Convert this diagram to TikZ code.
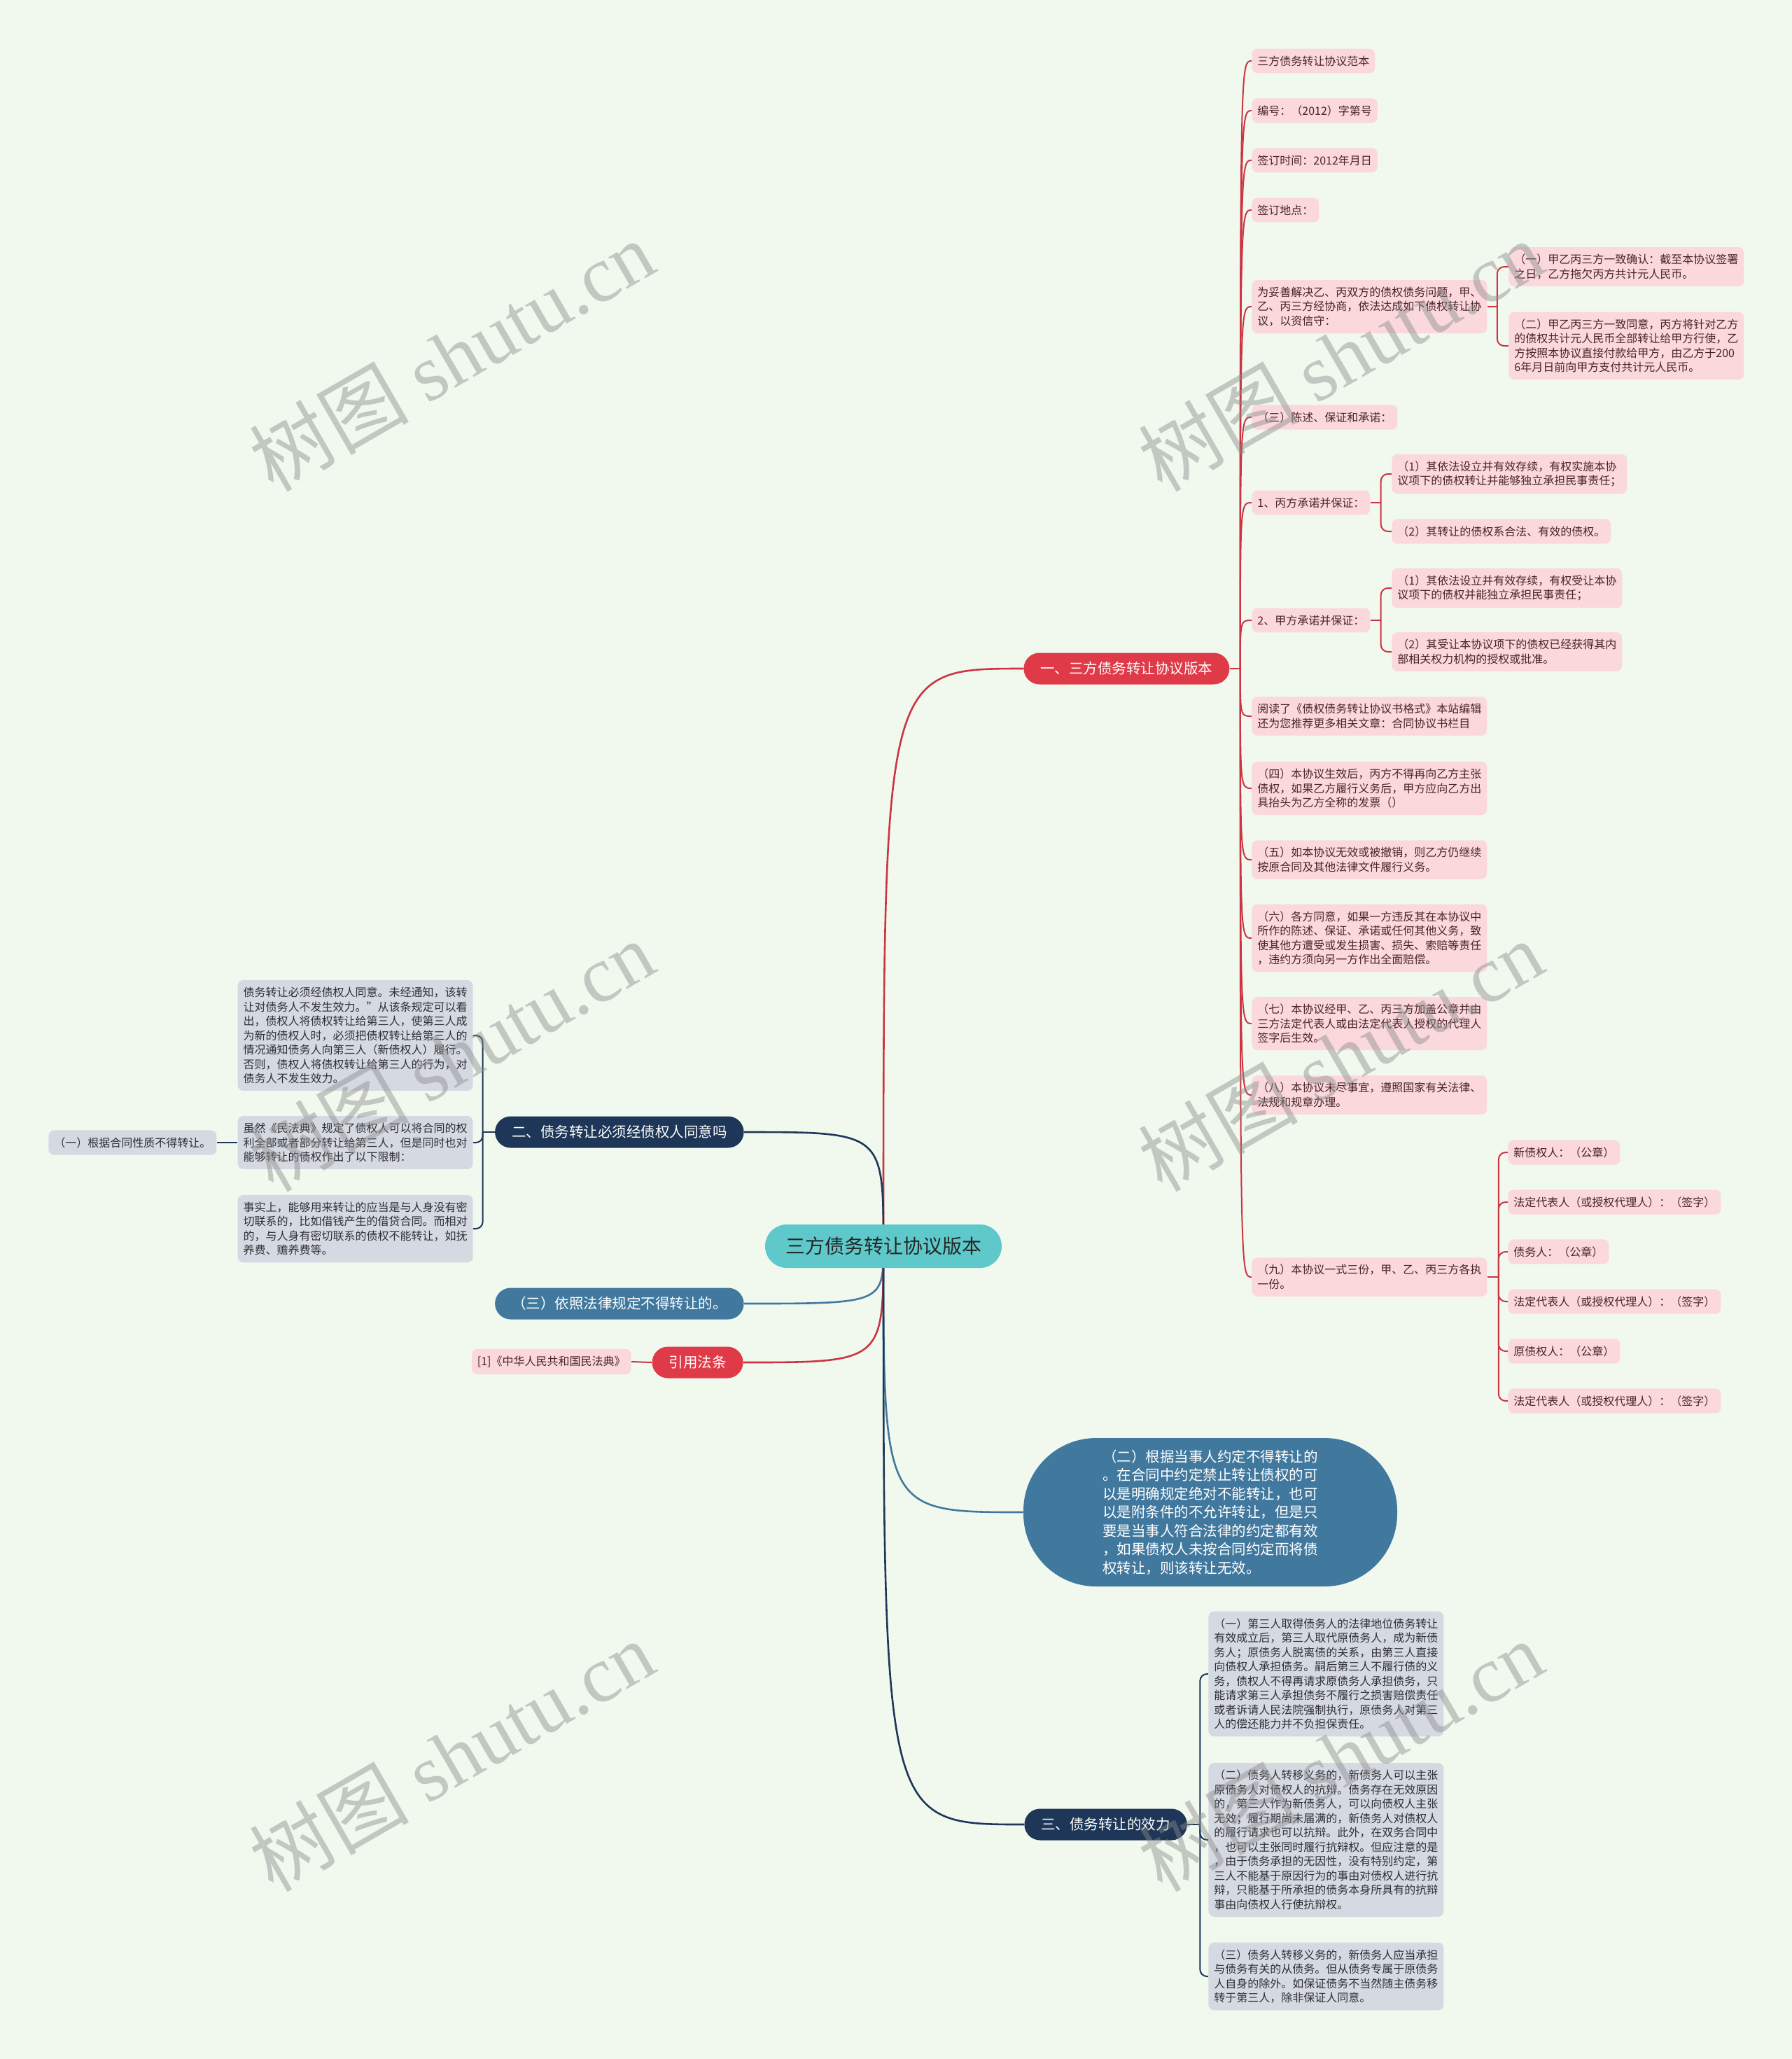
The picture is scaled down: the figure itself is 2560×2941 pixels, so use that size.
\documentclass[tikz,border=0pt]{standalone}
\usepackage{fontspec}
\setmainfont{Noto Sans CJK SC}
\newfontfamily\wmserif{Liberation Serif}
\usetikzlibrary{backgrounds}
\definecolor{bgc}{HTML}{F1F9EF}
\definecolor{pinkfill}{HTML}{FAD8DC}
\definecolor{pinktext}{HTML}{4A2326}
\definecolor{grayfill}{HTML}{D5DAE2}
\definecolor{graytext}{HTML}{2E2E33}
\definecolor{redc}{HTML}{E03A48}
\definecolor{redline}{HTML}{CC3442}
\definecolor{navyc}{HTML}{1E3657}
\definecolor{bluec}{HTML}{41789E}
\definecolor{tealc}{HTML}{5EC8CA}
\begin{document}
\begin{tikzpicture}[x=0.5pt,y=-0.5pt,
  pinkbox/.style={fill=pinkfill,text=pinktext,rounded corners=4pt,inner xsep=4pt,inner ysep=5pt,align=left,font=\fontsize{8}{10.25}\selectfont},
  graybox/.style={pinkbox,fill=grayfill,text=graytext},
  pill/.style={text=white,font=\fontsize{10.25}{12}\selectfont,inner xsep=12pt,inner ysep=0pt,minimum height=22.5pt,rounded corners=11.25pt},
  redmain/.style={draw=redline,line width=1.3pt},
  navymain/.style={draw=navyc,line width=1.3pt},
  bluemain/.style={draw=bluec,line width=1.3pt},
  redln/.style={draw=redline,line width=1pt},
  navyln/.style={draw=navyc,line width=1pt},
  bracket/.style={rounded corners=5pt},
  wmark/.style={rotate=30,text=black!45,text opacity=0.45,font=\fontsize{57}{57}\selectfont}
]
\useasboundingbox (0,0) rectangle (2560,2941);

% central node and main branches
\node[fill=tealc,text=black!85,font=\fontsize{14}{16}\selectfont,minimum width=169pt,minimum height=31pt,rounded corners=15.5pt] (c) at (1262,1780) {三方债务转让协议版本};
\node[pill,fill=redc,anchor=west] (b1) at (1462,955) {一、三方债务转让协议版本};
\node[pill,fill=navyc,anchor=east] (b2) at (1063,1617) {二、债务转让必须经债权人同意吗};
\node[pill,fill=bluec,anchor=east] (b3) at (1063,1862) {（三）依照法律规定不得转让的。};
\node[fill=bluec,text=white,align=left,font=\fontsize{10.25}{13.25}\selectfont,minimum width=267pt,minimum height=106pt,rounded corners=52pt] (b4) at (1729,2160) {（二）根据当事人约定不得转让的\\。在合同中约定禁止转让债权的可\\以是明确规定绝对不能转让，也可\\以是附条件的不允许转让，但是只\\要是当事人符合法律的约定都有效\\，如果债权人未按合同约定而将债\\权转让，则该转让无效。};
\node[pill,fill=redc,anchor=east] (b5) at (1062,1946) {引用法条};
\node[pill,fill=navyc,anchor=west] (b6) at (1463,2606) {三、债务转让的效力};
\node[pinkbox,anchor=east] (r1) at (902,1945) {[1]《中华人民共和国民法典》};

% branch 1 children
\node[pinkbox,anchor=west] (n1) at (1788,87) {三方债务转让协议范本};
\node[pinkbox,anchor=west] (n2) at (1788,158) {编号：（2012）字第号};
\node[pinkbox,anchor=west] (n3) at (1788,229) {签订时间：2012年月日};
\node[pinkbox,anchor=west] (n4) at (1788,300) {签订地点：};
\node[pinkbox,anchor=west] (n5) at (1788,438) {为妥善解决乙、丙双方的债权债务问题，甲、\\乙、丙三方经协商，依法达成如下债权转让协\\议，以资信守：};
\node[pinkbox,anchor=west] (n5a) at (2155,381) {（一）甲乙丙三方一致确认：截至本协议签署\\之日，乙方拖欠丙方共计元人民币。};
\node[pinkbox,anchor=west] (n5b) at (2155,494) {（二）甲乙丙三方一致同意，丙方将针对乙方\\的债权共计元人民币全部转让给甲方行使，乙\\方按照本协议直接付款给甲方，由乙方于200\\6年月日前向甲方支付共计元人民币。};
\node[pinkbox,anchor=west] (n6) at (1788,596) {（三）陈述、保证和承诺：};
\node[pinkbox,anchor=west] (n7) at (1788,718) {1、丙方承诺并保证：};
\node[pinkbox,anchor=west] (n7a) at (1988,677) {（1）其依法设立并有效存续，有权实施本协\\议项下的债权转让并能够独立承担民事责任；};
\node[pinkbox,anchor=west] (n7b) at (1988,759) {（2）其转让的债权系合法、有效的债权。};
\node[pinkbox,anchor=west] (n8) at (1788,886) {2、甲方承诺并保证：};
\node[pinkbox,anchor=west] (n8a) at (1988,840) {（1）其依法设立并有效存续，有权受让本协\\议项下的债权并能独立承担民事责任；};
\node[pinkbox,anchor=west] (n8b) at (1988,931) {（2）其受让本协议项下的债权已经获得其内\\部相关权力机构的授权或批准。};
\node[pinkbox,anchor=west] (n9) at (1788,1023) {阅读了《债权债务转让协议书格式》本站编辑\\还为您推荐更多相关文章：合同协议书栏目};
\node[pinkbox,anchor=west] (n10) at (1788,1126) {（四）本协议生效后，丙方不得再向乙方主张\\债权，如果乙方履行义务后，甲方应向乙方出\\具抬头为乙方全称的发票（）};
\node[pinkbox,anchor=west] (n11) at (1788,1228) {（五）如本协议无效或被撤销，则乙方仍继续\\按原合同及其他法律文件履行义务。};
\node[pinkbox,anchor=west] (n12) at (1788,1340) {（六）各方同意，如果一方违反其在本协议中\\所作的陈述、保证、承诺或任何其他义务，致\\使其他方遭受或发生损害、损失、索赔等责任\\，违约方须向另一方作出全面赔偿。};
\node[pinkbox,anchor=west] (n13) at (1788,1462) {（七）本协议经甲、乙、丙三方加盖公章并由\\三方法定代表人或由法定代表人授权的代理人\\签字后生效。};
\node[pinkbox,anchor=west] (n14) at (1788,1564) {（八）本协议未尽事宜，遵照国家有关法律、\\法规和规章办理。};
\node[pinkbox,anchor=west] (n15) at (1788,1824) {（九）本协议一式三份，甲、乙、丙三方各执\\一份。};
\node[pinkbox,anchor=west] (n15a) at (2154,1646) {新债权人：（公章）};
\node[pinkbox,anchor=west] (n15b) at (2154,1717) {法定代表人（或授权代理人）：（签字）};
\node[pinkbox,anchor=west] (n15c) at (2154,1788) {债务人：（公章）};
\node[pinkbox,anchor=west] (n15d) at (2154,1859) {法定代表人（或授权代理人）：（签字）};
\node[pinkbox,anchor=west] (n15e) at (2154,1930) {原债权人：（公章）};
\node[pinkbox,anchor=west] (n15f) at (2154,2001) {法定代表人（或授权代理人）：（签字）};

% branch 2 children
\node[graybox,anchor=east] (l1) at (676,1479) {债务转让必须经债权人同意。未经通知，该转\\让对债务人不发生效力。”从该条规定可以看\\出，债权人将债权转让给第三人，使第三人成\\为新的债权人时，必须把债权转让给第三人的\\情况通知债务人向第三人（新债权人）履行。\\否则，债权人将债权转让给第三人的行为，对\\债务人不发生效力。};
\node[graybox,anchor=east] (l2) at (676,1632) {虽然《民法典》规定了债权人可以将合同的权\\利全部或者部分转让给第三人，但是同时也对\\能够转让的债权作出了以下限制：};
\node[graybox,anchor=east] (l3) at (676,1755) {事实上，能够用来转让的应当是与人身没有密\\切联系的，比如借钱产生的借贷合同。而相对\\的，与人身有密切联系的债权不能转让，如抚\\养费、赡养费等。};
\node[graybox,anchor=west] (l0) at (69,1632) {（一）根据合同性质不得转让。};

% branch 6 children
\node[graybox,anchor=west] (m1) at (1726,2391) {（一）第三人取得债务人的法律地位债务转让\\有效成立后，第三人取代原债务人，成为新债\\务人；原债务人脱离债的关系，由第三人直接\\向债权人承担债务。嗣后第三人不履行债的义\\务，债权人不得再请求原债务人承担债务，只\\能请求第三人承担债务不履行之损害赔偿责任\\或者诉请人民法院强制执行，原债务人对第三\\人的偿还能力并不负担保责任。};
\node[graybox,anchor=west] (m2) at (1726,2628) {（二）债务人转移义务的，新债务人可以主张\\原债务人对债权人的抗辩。债务存在无效原因\\的，第三人作为新债务人，可以向债权人主张\\无效；履行期尚未届满的，新债务人对债权人\\的履行请求也可以抗辩。此外，在双务合同中\\，也可以主张同时履行抗辩权。但应注意的是\\，由于债务承担的无因性，没有特别约定，第\\三人不能基于原因行为的事由对债权人进行抗\\辩，只能基于所承担的债务本身所具有的抗辩\\事由向债权人行使抗辩权。};
\node[graybox,anchor=west] (m3) at (1726,2823) {（三）债务人转移义务的，新债务人应当承担\\与债务有关的从债务。但从债务专属于原债务\\人自身的除外。如保证债务不当然随主债务移\\转于第三人，除非保证人同意。};

\begin{pgfonlayer}{background}
\fill[bgc] (0,0) rectangle (2560,2941);
% main branches
\draw[redmain] (c.center) .. controls (c.center |- b1.west) .. (b1.west);
\draw[navymain] (c.center) .. controls (c.center |- b2.east) .. (b2.east);
\draw[bluemain] (c.center) .. controls (c.center |- b3.east) .. (b3.east);
\draw[bluemain] (c.center) .. controls (c.center |- b4.west) .. (b4.west);
\draw[redmain] (c.center) .. controls (c.center |- b5.east) .. (b5.east);
\draw[navymain] (c.center) .. controls (c.center |- b6.west) .. (b6.west);
\draw[redln] (b5.west) -- (r1.east);
% branch 1 bundle
\draw[redln] (b1.east) -- ++(15,0) coordinate (j1);
\foreach \n in {n1,n2,n3,n4,n5,n6,n7,n8,n9,n10,n11,n12,n13,n14,n15}
  \draw[redln] (j1) .. controls (j1 |- \n.west) .. (\n.west);
\draw[redln] (n5.east) -- ++(14,0) coordinate (j5);
\foreach \n in {n5a,n5b} \draw[redln,bracket] (j5) |- (\n.west);
\draw[redln] (n7.east) -- ++(15,0) coordinate (j7);
\foreach \n in {n7a,n7b} \draw[redln,bracket] (j7) |- (\n.west);
\draw[redln] (n8.east) -- ++(15,0) coordinate (j8);
\foreach \n in {n8a,n8b} \draw[redln,bracket] (j8) |- (\n.west);
\draw[redln] (n15.east) -- ++(16,0) coordinate (j15);
\foreach \n in {n15a,n15b,n15c,n15d,n15e,n15f} \draw[redln,bracket] (j15) |- (\n.west);
% branch 2
\draw[navyln] (b2.west) -- ++(-17,0) coordinate (j2);
\foreach \n in {l1,l2,l3} \draw[navyln,bracket] (j2) |- (\n.east);
\draw[navyln] (l0.east) -- (l2.west);
% branch 6
\draw[navyln] (b6.east) -- ++(18,0) coordinate (j6);
\foreach \n in {m1,m2,m3} \draw[navyln,bracket] (j6) |- (\n.west);
\end{pgfonlayer}

% watermarks
\foreach \wx/\wy/\k in {645/508/1,1915/508/2,645/1508/3,1915/1508/4,645/2508/5,1915/2508/6}
  \node[wmark] (wm\k) at (\wx,\wy) {树图 {\wmserif shutu.cn}};
\end{tikzpicture}
\end{document}
